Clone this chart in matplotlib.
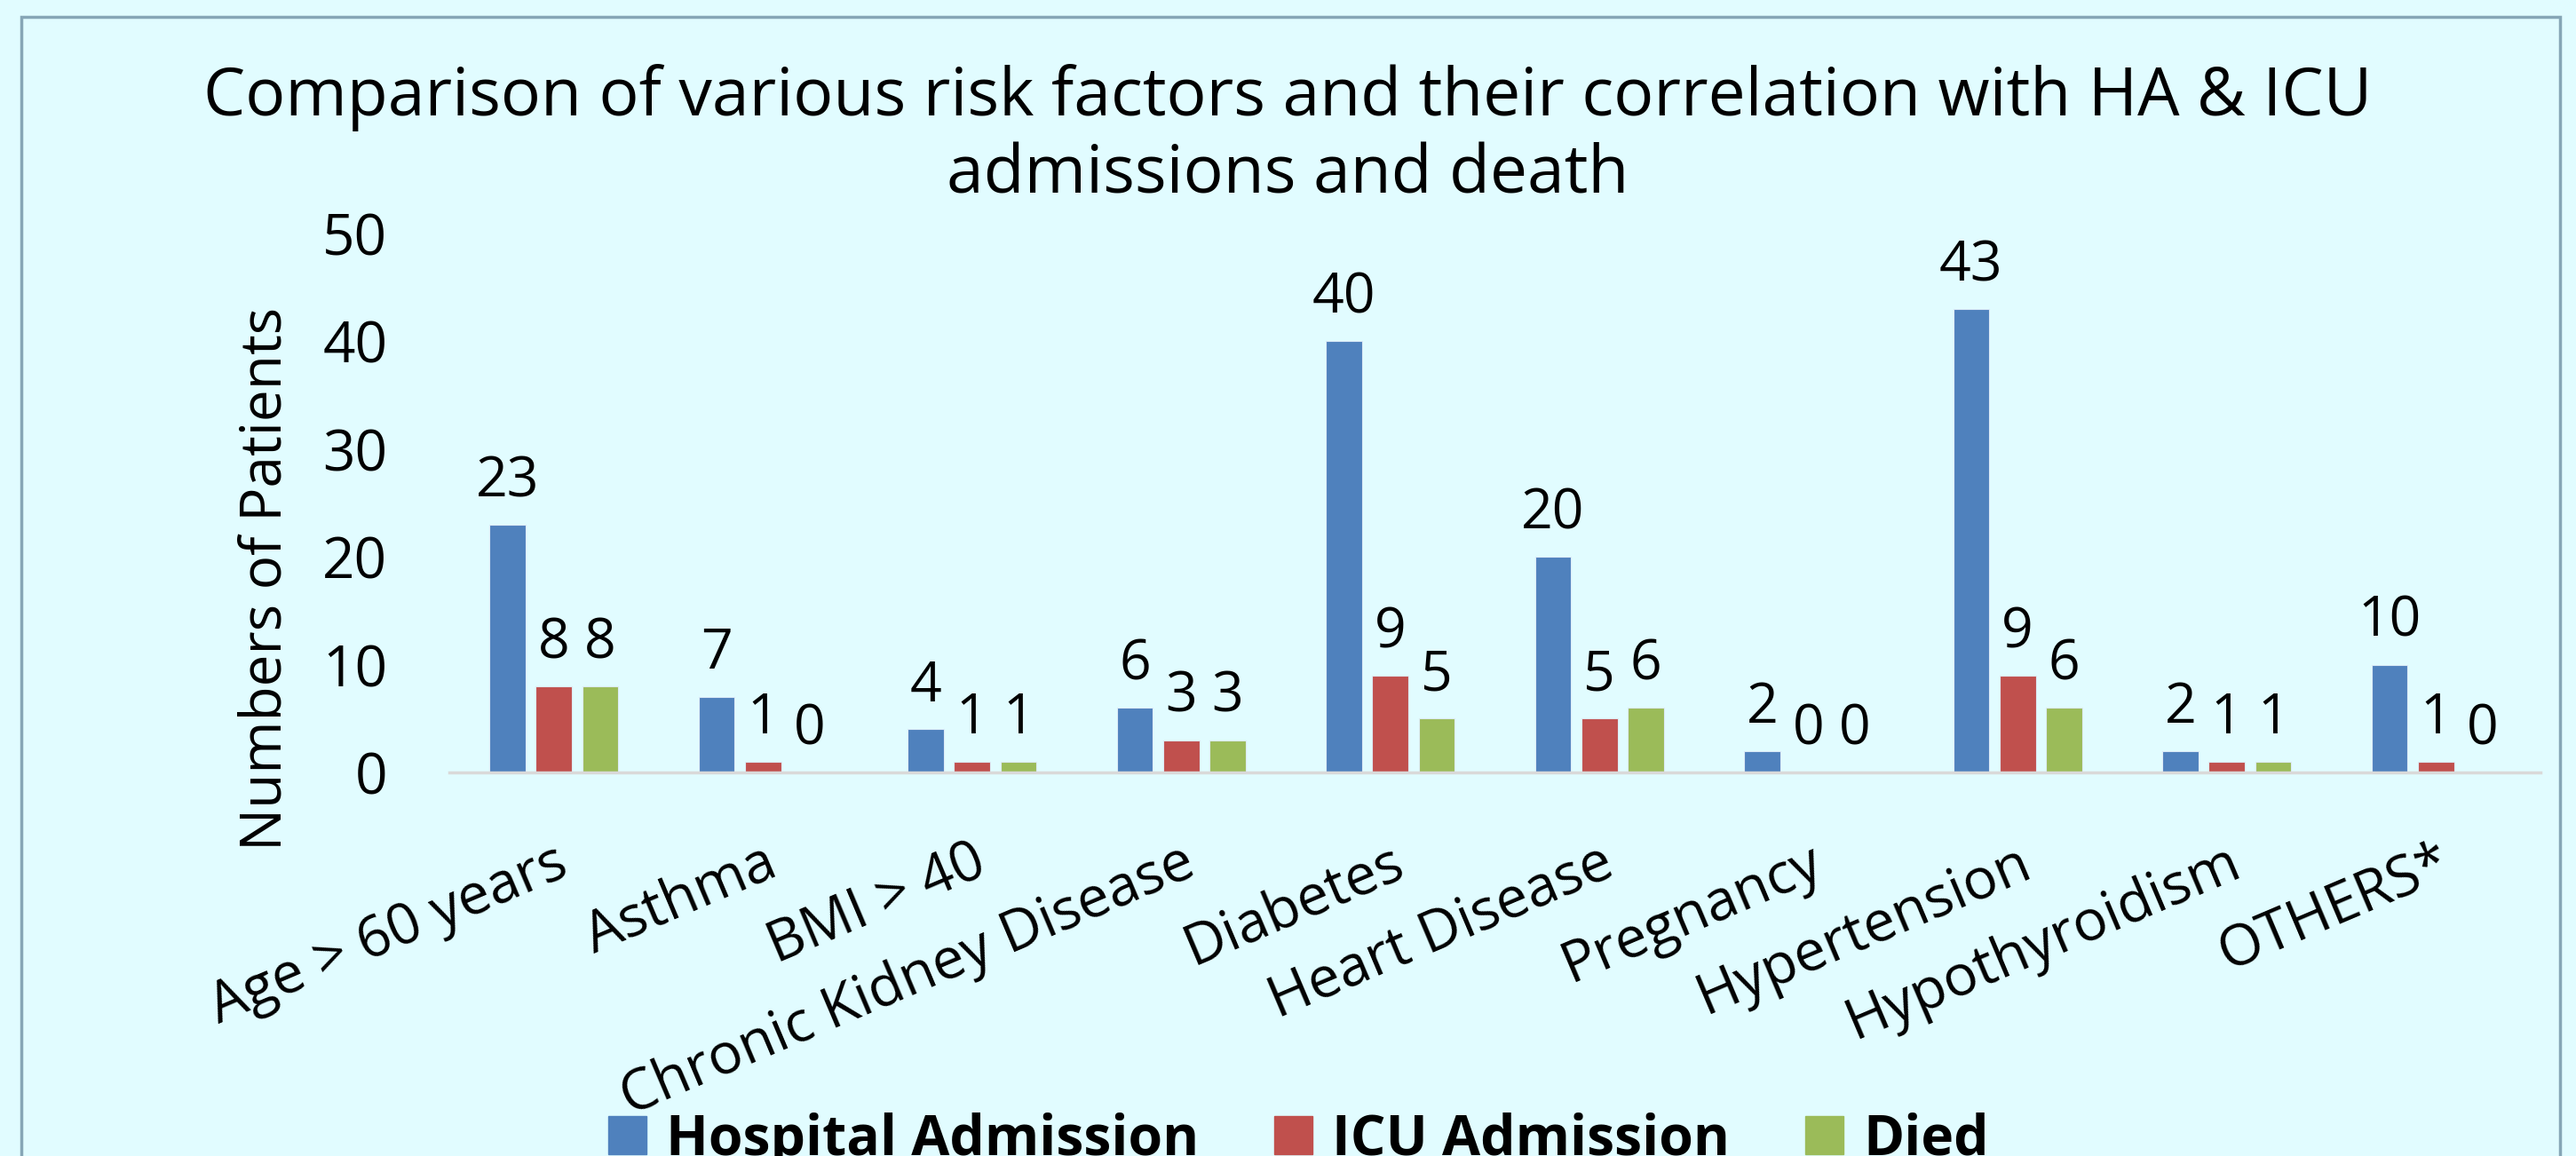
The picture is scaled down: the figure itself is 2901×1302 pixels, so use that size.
import matplotlib
matplotlib.use("Agg")
import matplotlib.pyplot as plt
import numpy as np
from matplotlib.patches import Rectangle

categories = ["Age > 60 years", "Asthma", "BMI > 40", "Chronic Kidney Disease",
              "Diabetes", "Heart Disease", "Pregnancy", "Hypertension",
              "Hypothyroidism", "OTHERS*"]
hospital = [23, 7, 4, 6, 40, 20, 2, 43, 2, 10]
icu = [8, 1, 1, 3, 9, 5, 0, 9, 1, 1]
died = [8, 0, 1, 3, 5, 6, 0, 6, 1, 0]
series_names = ["Hospital Admission", "ICU Admission", "Died"]
colors = ["#4F81BD", "#C0504D", "#9BBB59"]
yticks = [0, 10, 20, 30, 40, 50]

plt.rcParams['font.family'] = ['Open Sans', 'DejaVu Sans']
bg = "#E1FCFF"

fig = plt.figure(figsize=(29.01, 13.02), dpi=100, facecolor=bg)
ax = fig.add_axes([0.1744, 0.3318, 0.8118, 0.4662])
ax.set_facecolor(bg)

# outer chart border (bottom edge is cut off in the original)
fig.patches.append(Rectangle((24 / 2901, -0.05), (2883 - 24) / 2901, 1 - 19 / 1302 + 0.05,
                             transform=fig.transFigure, fill=False,
                             edgecolor="#86A6B6", linewidth=2.5))

x = np.arange(len(categories))
w = 0.173
off = 0.222
for i, (vals, c, name) in enumerate(zip([hospital, icu, died], colors, series_names)):
    bars = ax.bar(x + (i - 1) * off, vals, w, color=c, edgecolor="#DDEBF7",
                  linewidth=0.8, label=name)
    ax.bar_label(bars, padding=12, fontsize=45)

ax.set_xlim(-0.5, len(categories) - 0.5)
ax.set_ylim(0, 50)
ax.set_yticks(yticks)
ax.set_xticks(x)
ax.set_xticklabels(categories, rotation=23, ha="right", va="top",
                   rotation_mode="anchor")
ax.tick_params(axis="both", length=0, pad=50, labelsize=46)

for s in ["top", "right", "left"]:
    ax.spines[s].set_visible(False)
ax.spines["bottom"].set_color("#D9D9D9")
ax.spines["bottom"].set_linewidth(2.5)

ax.set_ylabel("Numbers of Patients", fontsize=46, va="center")
ax.yaxis.set_label_coords(-0.0875, 0.36)

fig.suptitle("Comparison of various risk factors and their correlation with HA & ICU\n"
             "admissions and death", x=0.5, y=0.882, va="center", fontsize=54,
             linespacing=1.22)

handles = [Rectangle((0, 0), 1, 1, color=c) for c in colors]
fig.legend(handles, series_names, loc="upper center", bbox_to_anchor=(0.504, 0.038),
           ncol=3, frameon=False, prop={"weight": "bold", "size": 45},
           handlelength=0.69, handleheight=0.69, handletextpad=0.35,
           columnspacing=1.36, borderpad=0, borderaxespad=0)

fig.savefig("out.png", dpi=100, facecolor=bg)
